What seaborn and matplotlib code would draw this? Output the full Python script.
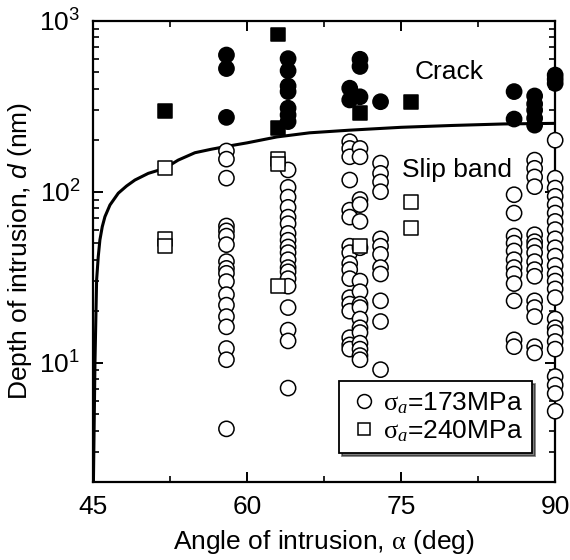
import numpy as np
import pandas as pd
import matplotlib
matplotlib.use("Agg")
import matplotlib.pyplot as plt
import seaborn as sns
from matplotlib.lines import Line2D
from matplotlib.ticker import NullFormatter, LogLocator, FixedLocator

# --- data ---
# sigma_a = 173 MPa, circles (angle columns)
angles_173 = [58, 64, 70, 71, 73, 86, 88, 90]
slip_173 = [
    [173, 155, 120, 63, 59, 55, 49, 39, 35.6, 33.3, 29.8, 25, 21.7, 18.6, 16.2, 12.1, 10.4, 4.1],
    [134, 106, 93, 81, 71, 65, 57, 52, 47.5, 44, 40, 36, 34, 31, 28, 21, 15.5, 13.4, 7.1],
    [196, 179, 160, 117, 78, 71, 48, 44, 38, 35, 31, 24, 22, 20, 14, 12.7, 12],
    [179, 160, 90, 84, 67, 47, 30, 26, 22, 21, 18, 16, 15, 13, 12, 11, 10.4],
    [147, 128, 114, 100, 53, 48, 43, 36, 33, 23, 17.4, 9.1],
    [96, 75, 55, 50, 45, 40, 36, 33, 29, 23, 13.6, 12.4],
    [153, 137, 122, 107, 56, 51, 48, 44, 39, 35, 32, 23, 21, 18.6, 12.4, 11.4],
    [200, 120, 105, 94, 84, 75, 67, 60, 53, 47, 42, 37, 33, 30, 27, 24, 18, 16, 15,
     13.3, 12, 8.3, 7.4, 6.6, 5.2],
]
crack_173 = [
    [630, 525, 272],
    [600, 510, 415, 385, 308, 281, 257],
    [403, 344],
    [595, 540, 359],
    [336],
    [385, 266],
    [363, 326, 300, 269, 245],
    [481, 455, 430],
]

# sigma_a = 240 MPa, squares
angles_240 = [52, 63, 71, 76]
slip_240 = [[137, 53, 48], [155, 145, 28], [48], [87, 61]]
crack_240 = [[296], [830, 237], [287], [336]]

# boundary curve
curve_angle = [45.05, 45.2, 45.36, 45.52, 45.68, 45.91, 46.17, 46.66, 47.47, 48.28, 49.09,
               50.39, 52.0, 53.3, 54.93, 56.5, 58.0, 60.0, 62.9, 66.1, 70.0, 75.0, 80.0, 85.0, 90.0]
curve_depth = [2.0, 10, 30.4, 41.7, 52.2, 62.4, 71.4, 83.6, 98, 108, 117,
               128, 137, 153, 169, 177, 184, 193, 209, 221, 229, 238, 244, 249, 251]


def to_frame(angles, slip, crack):
    rows = []
    for a, s_list, c_list in zip(angles, slip, crack):
        rows += [(a, d, "Slip band") for d in s_list]
        rows += [(a, d, "Crack") for d in c_list]
    return pd.DataFrame(rows, columns=["angle", "depth", "mode"])


df173 = to_frame(angles_173, slip_173, crack_173)
df240 = to_frame(angles_240, slip_240, crack_240)

FS = 19
sns.set_theme(style="ticks")
plt.rcParams["font.family"] = ["Liberation Sans", "DejaVu Sans"]
plt.rcParams["mathtext.fontset"] = "custom"
plt.rcParams["mathtext.rm"] = "Liberation Serif"
plt.rcParams["mathtext.it"] = "Liberation Serif:italic"
plt.rcParams["mathtext.sf"] = "Liberation Sans:italic"
plt.rcParams["text.color"] = "black"
plt.rcParams["axes.labelcolor"] = "black"

fig = plt.figure(figsize=(5.7, 5.6), dpi=100)
ax = fig.add_axes([0.163, 0.139, 0.811, 0.824])

sns.lineplot(x=curve_angle, y=curve_depth, color="black", linewidth=2.2,
             sort=False, estimator=None, ax=ax, zorder=2)

pal = {"Slip band": "white", "Crack": "black"}
sns.scatterplot(data=df173, x="angle", y="depth", hue="mode", palette=pal,
                marker="o", s=120, edgecolor="black", linewidth=1.1,
                legend=False, ax=ax, zorder=3, clip_on=False)
sns.scatterplot(data=df240, x="angle", y="depth", hue="mode", palette=pal,
                marker="s", s=100, edgecolor="black", linewidth=1.1,
                legend=False, ax=ax, zorder=3, clip_on=False)

ax.set_yscale("log")
ax.set_xlim(45, 90)
ax.set_ylim(2, 1000)
ax.xaxis.set_major_locator(FixedLocator([45, 60, 75, 90]))
ax.xaxis.set_minor_locator(FixedLocator([52.5, 67.5, 82.5]))
ax.yaxis.set_major_locator(LogLocator(base=10))
ax.yaxis.set_minor_locator(LogLocator(base=10, subs=np.arange(2, 10), numticks=20))
ax.yaxis.set_minor_formatter(NullFormatter())
for sp in ax.spines.values():
    sp.set_linewidth(1.6)
    sp.set_color("black")

ax.tick_params(which="both", direction="in", top=True, right=True,
               bottom=True, left=True, labelsize=FS, labelcolor="black", color="black")
ax.tick_params(which="major", length=7.5, width=1.4, pad=9)
ax.tick_params(which="minor", length=4, width=1.2)

ax.set_xlabel(r"Angle of intrusion, $\mathrm{\alpha}$ (deg)", fontsize=FS, labelpad=7)
ax.set_ylabel(r"Depth of intrusion, $\mathsf{d}$ (nm)", fontsize=FS, labelpad=4)

ax.text(76.3, 500, "Crack", fontsize=FS, va="center")
ax.text(75.1, 134, "Slip band", fontsize=FS, va="center")

handles = [
    Line2D([], [], marker="o", ls="none", mfc="white", mec="black", ms=10, mew=1.1),
    Line2D([], [], marker="s", ls="none", mfc="white", mec="black", ms=9, mew=1.1),
]
labels = [r"$\mathrm{\sigma}_{a}$=173MPa", r"$\mathrm{\sigma}_{a}$=240MPa"]
leg = ax.legend(handles, labels, loc="lower right", bbox_to_anchor=(0.95, 0.063),
                fontsize=FS, frameon=True, fancybox=False, shadow={"color": "black"},
                handletextpad=0.1, handlelength=1.2, borderpad=0.35, labelspacing=0.1,
                borderaxespad=0)
leg.get_frame().set_edgecolor("black")
leg.get_frame().set_linewidth(1.3)

fig.savefig("out.png", dpi=100)
